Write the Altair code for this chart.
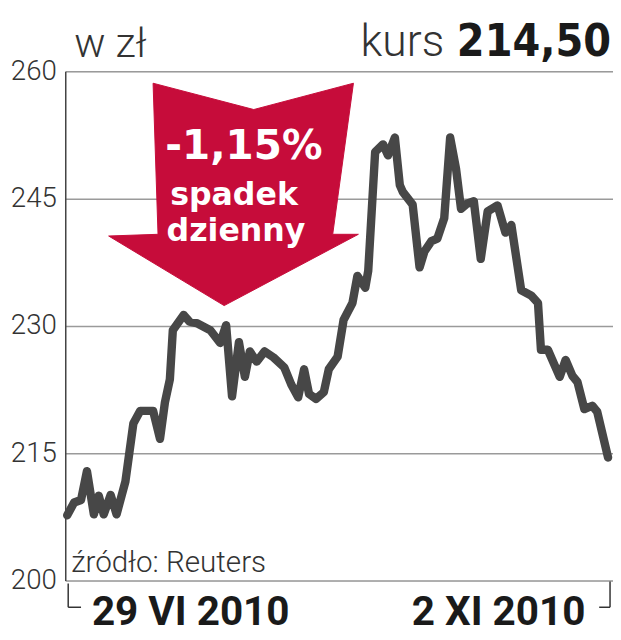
import altair as alt
import pandas as pd

# price series (x position index, price in zł)
t_vals = [2, 9, 16, 22, 29, 34, 39, 46, 52, 61, 69, 76, 89, 96, 101, 106, 109, 120, 126, 134,
          147, 157, 163, 169, 176, 182, 187, 194, 202, 211, 222, 229, 236, 242, 247, 254, 262,
          267, 276, 282, 291, 296, 304, 307, 314, 322, 327, 334, 339, 342, 352, 359, 364, 371,
          377, 384, 390, 396, 401, 407, 414, 421, 428, 438, 446, 452, 462, 472, 479, 482, 489,
          501, 507, 514, 519, 526, 534, 539, 550]
prices = [207.7, 209.2, 209.5, 212.9, 207.8, 210.0, 207.8, 210.1, 207.8, 211.7, 218.5, 220.0,
          220.0, 216.7, 221.0, 223.7, 229.5, 231.3, 230.5, 230.3, 229.5, 228.0, 230.1, 221.7,
          228.1, 224.0, 227.0, 225.8, 227.0, 226.3, 225.1, 223.1, 221.6, 224.9, 222.0, 221.4,
          222.2, 224.9, 226.4, 230.7, 232.7, 235.9, 234.5, 236.5, 250.5, 251.4, 250.1, 252.2,
          246.6, 245.8, 244.3, 236.9, 238.8, 240.0, 240.3, 242.7, 252.2, 248.5, 243.8, 244.4,
          244.7, 237.9, 243.5, 244.2, 241.0, 241.9, 234.2, 233.6, 232.7, 227.2, 227.2, 224.0,
          226.0, 224.1, 223.4, 220.2, 220.6, 219.9, 214.5]

y_ticks = [200, 215, 230, 245, 260]
x_labels = ["29 VI 2010", "2 XI 2010"]
title_unit = "w zł"
title_kurs = "kurs"
title_value = "214,50"
badge_lines = ["-1,15%", "spadek", "dzienny"]
source = "źródło: Reuters"

# arrow annotation outline (in data units)
arrow_t = [89, 191, 292, 271, 297, 161, 44, 94]
arrow_v = [258.6, 255.5, 258.6, 240.8, 240.8, 232.4, 240.6, 240.8]

RED = "#c60c3a"
DARK = "#333333"

df = pd.DataFrame({"t": t_vals, "price": prices})
arrow_df = pd.DataFrame({"t": arrow_t, "v": arrow_v, "o": list(range(len(arrow_t)))})

xs = alt.Scale(domain=[0, 555], nice=False, zero=False)
ys = alt.Scale(domain=[200, 260], nice=False, zero=False)

arrow = alt.Chart(arrow_df).mark_line(
    fill=RED, stroke=RED, strokeWidth=1, interpolate="linear-closed"
).encode(
    x=alt.X("t:Q", scale=xs, axis=None),
    y=alt.Y("v:Q", scale=ys),
    order="o:Q",
)

line = alt.Chart(df).mark_line(
    color="#474747", strokeWidth=8.5, strokeCap="round", strokeJoin="round"
).encode(
    x=alt.X("t:Q", scale=xs, axis=None),
    y=alt.Y("price:Q", scale=ys, axis=alt.Axis(
        values=y_ticks, title=None, ticks=False, labelFontSize=28, labelFont="Roboto",
        labelFontWeight=300, labelColor=DARK, labelPadding=9, domain=True,
        domainColor="#444444", domainWidth=1.5, grid=True, gridColor="#9a9a9a",
        gridWidth=1.5)),
)


def txt(s, x, y, size, font, weight="normal", align="left", color=DARK):
    return alt.Chart(pd.DataFrame({"s": [s]})).mark_text(
        fontSize=size, font=font, fontWeight=weight, align=align,
        baseline="alphabetic", color=color
    ).encode(x=alt.value(x), y=alt.value(y), text="s:N")


texts = [
    txt(title_unit, 9, -15, 42, "Roboto", 300),
    txt(title_kurs, 384, -16, 45, "Roboto", 300, "right"),
    txt(title_value, 553, -16, 45, "DejaVu Sans Condensed", "bold", "right", "#1a1a1a"),
    txt(badge_lines[0], 181, 89, 41, "DejaVu Sans", "bold", "center", "white"),
    txt(badge_lines[1], 171, 135, 32, "DejaVu Sans", "bold", "center", "white"),
    txt(badge_lines[2], 173, 172, 32, "DejaVu Sans", "bold", "center", "white"),
    txt(source, 6, 507, 30, "Roboto", 300),
    txt(x_labels[0], 27, 561, 41, "Roboto", "bold", "left", "#1a1a1a"),
    txt(x_labels[1], 527, 561, 41, "Roboto", "bold", "right", "#1a1a1a"),
]


def rule(x, x2, y, y2):
    return alt.Chart(pd.DataFrame({"a": [0]})).mark_rule(
        color=DARK, strokeWidth=1.5
    ).encode(x=alt.value(x), x2=alt.value(x2), y=alt.value(y), y2=alt.value(y2))


brackets = [
    rule(3, 3, 519, 543), rule(3, 16, 543, 543),
    rule(552, 552, 517, 543), rule(541, 552, 543, 543),
]

chart = alt.layer(arrow, line, *texts, *brackets).properties(
    width=555, height=516,
    autosize=alt.AutoSizeParams(type="none"),
    padding={"left": 58, "top": 60, "right": 0, "bottom": 56},
).configure_view(stroke=None).configure(background="white")

chart.save("out.html", embed_options={"renderer": "svg", "actions": False})
